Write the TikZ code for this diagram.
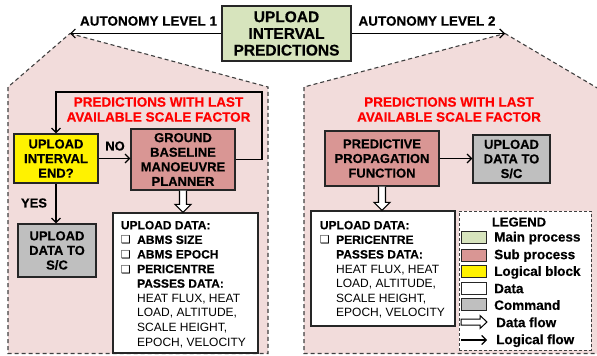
\documentclass[tikz,border=0pt]{standalone}
\usepackage{fontspec}
\setmainfont{Liberation Sans}[BoldFeatures={FakeBold=0.4}]
\newfontfamily\dvfont{DejaVu Sans}
\usetikzlibrary{arrows.meta,calc}
\definecolor{panelpink}{HTML}{F2DCDB}
\definecolor{subred}{HTML}{D99694}
\definecolor{maingreen}{HTML}{D7E4BD}
\definecolor{cmdgray}{HTML}{BFBFBF}
\definecolor{dashgray}{HTML}{404040}
\definecolor{edgegray}{HTML}{262626}
\newcommand{\cbx}{\makebox[16.3pt][l]{\dvfont\fontsize{11}{11}\selectfont ❑}}
\newcommand{\ind}{\hspace*{16.3pt}}
\begin{document}
\begin{tikzpicture}[x=1pt,y=-1pt,
  box/.style={draw=edgegray,line width=1.2pt,inner sep=0pt,align=center,
    font=\bfseries\fontsize{13}{14.6}\selectfont},
  panel/.style={draw=dashgray,line width=1.1pt,dash pattern=on 4pt off 3pt,fill=panelpink},
  logic/.style={draw=black,line width=1.2pt,-{Straight Barb[length=4.5pt,width=9pt]}},
  dataflow/.style={draw=black,line width=1.1pt,fill=white,
    to path={let \p1=(\tikztostart),\p2=(\tikztotarget) in
      (\x1-3.5pt,\y1) -- (\x1-3.5pt,\y2+8pt) -- (\x1-8pt,\y2+8pt) -- (\x1,\y2)
      -- (\x1+8pt,\y2+8pt) -- (\x1+3.5pt,\y2+8pt) -- (\x1+3.5pt,\y1)}},
  lbl/.style={inner sep=0pt,font=\bfseries\fontsize{13.5}{15}\selectfont},
  redlbl/.style={inner sep=0pt,align=center,text=red,font=\bfseries\fontsize{13.5}{15}\selectfont},
  datatxt/.style={anchor=north west,inner sep=0pt,align=left,font=\bfseries\fontsize{12}{14.6}\selectfont},
  swatch/.style={draw=edgegray,line width=1pt,minimum width=25pt,minimum height=12pt,inner sep=0pt},
  legtxt/.style={anchor=west,inner sep=0pt,text height=9.7pt,text depth=0pt,font=\bfseries\fontsize{13.5}{15}\selectfont}
]
\useasboundingbox (0,0) rectangle (597,356);
\clip (0,0) rectangle (597,356);

% panels
\draw[panel] (70,33.5) -- (268,87) -- (268,353.5) -- (8,353.5) -- (8,87) -- cycle;
\draw[panel] (505,33.5) -- (599,89) -- (599,353.5) -- (304,353.5) -- (304,87) -- cycle;

\coordinate (apexL) at (70,33.5);
\coordinate (apexR) at (505,33.5);

% main process
\node[box,fill=maingreen,minimum width=129pt,minimum height=55pt,
  font=\bfseries\fontsize{15.5}{16.7}\selectfont] (main) at (286.5,33.5) {UPLOAD\\INTERVAL\\PREDICTIONS};
\draw[logic] (main.west) -- (apexL);
\draw[logic] (main.east) -- (apexR);
\node[lbl] (al1) at (148.5,21) {AUTONOMY LEVEL 1};
\node[lbl] (al2) at (427,21) {AUTONOMY LEVEL 2};

% left panel
\node[redlbl] (predL) at (158.5,109.5) {PREDICTIONS WITH LAST\\AVAILABLE SCALE FACTOR};
\node[box,fill=yellow,minimum width=84pt,minimum height=49pt] (yel) at (56,158.5) {UPLOAD\\INTERVAL\\END?};
\node[box,fill=subred,minimum width=104pt,minimum height=61pt] (gbmp) at (183,159.5) {GROUND\\BASELINE\\MANOEUVRE\\PLANNER};
\node[box,fill=cmdgray,minimum width=78pt,minimum height=53pt] (uplL) at (57,250.5) {UPLOAD\\DATA TO\\S/C};
\node[box,fill=white,minimum width=145pt,minimum height=140pt] (dataL) at (185.5,283) {};
\node[datatxt] (dataLt) at (120.7,220.7) {UPLOAD DATA:\\\cbx ABMS SIZE\\\cbx ABMS EPOCH\\\cbx PERICENTRE\\\ind PASSES DATA:\\\ind{\mdseries HEAT FLUX, HEAT}\\\ind{\mdseries LOAD, ALTITUDE,}\\\ind{\mdseries SCALE HEIGHT,}\\\ind{\mdseries EPOCH, VELOCITY}};

\draw[logic] (yel.east) -- (yel.east -| gbmp.west);
\node[lbl,font=\bfseries\fontsize{13}{14}\selectfont] (no) at (115,146) {NO};
\draw[logic] (yel.south) -- (yel.south |- uplL.north);
\node[lbl,font=\bfseries\fontsize{13}{14}\selectfont] (yes) at (34,203) {YES};
\coordinate (loopB) at (262,92);
\draw[logic] (gbmp.east) -| (loopB) -| (yel.north);
\draw[dataflow] (gbmp.south) to (gbmp.south |- dataL.north);

% right panel
\node[redlbl] (predR) at (449,109.5) {PREDICTIONS WITH LAST\\AVAILABLE SCALE FACTOR};
\node[box,fill=subred,minimum width=114pt,minimum height=55pt] (ppf) at (382,158.5) {PREDICTIVE\\PROPAGATION\\FUNCTION};
\node[box,fill=cmdgray,minimum width=77pt,minimum height=48pt] (uplR) at (511.5,159) {UPLOAD\\DATA TO\\S/C};
\draw[logic] (ppf.east) -- (ppf.east -| uplR.west);
\node[box,fill=white,minimum width=144pt,minimum height=115pt] (dataR) at (383,268.5) {};
\node[datatxt] (dataRt) at (319.7,220.7) {UPLOAD DATA:\\\cbx PERICENTRE\\\ind PASSES DATA:\\\ind{\mdseries HEAT FLUX, HEAT}\\\ind{\mdseries LOAD, ALTITUDE,}\\\ind{\mdseries SCALE HEIGHT,}\\\ind{\mdseries EPOCH, VELOCITY}};
\draw[dataflow] (ppf.south) to (ppf.south |- dataR.north);

% legend
\node[draw=dashgray,line width=1pt,dash pattern=on 3pt off 2pt,fill=white,
  minimum width=132pt,minimum height=139pt,inner sep=0pt] (legend) at (525,280.5) {};
\node[lbl,font=\bfseries\fontsize{13}{14}\selectfont] (legt) at (519,222) {LEGEND};
\node[swatch,fill=maingreen] (sw1) at (473.5,237.5) {};
\node[swatch,fill=subred] (sw2) at (473.5,255) {};
\node[swatch,fill=yellow] (sw3) at (473.5,271.7) {};
\node[swatch,fill=white] (sw4) at (473.5,288) {};
\node[swatch,fill=cmdgray] (sw5) at (473.5,304.4) {};
\node[legtxt] (lt1) at (494,236.7) {Main process};
\node[legtxt] (lt2) at (494,254.3) {Sub process};
\node[legtxt] (lt3) at (494,271) {Logical block};
\node[legtxt] (lt4) at (494,288.3) {Data};
\node[legtxt] (lt5) at (494,305) {Command};
\draw[line width=1pt,fill=white] (461,319) -- (480,319) -- (480,315.5) -- (487,322) -- (480,328.5) -- (480,325) -- (461,325) -- cycle;
\node[legtxt] (lt6) at (496,322.3) {Data flow};
\coordinate (lf1) at (461,340);
\coordinate (lf2) at (487,340);
\draw[logic] (lf1) -- (lf2);
\node[legtxt] (lt7) at (496,339.3) {Logical flow};
\end{tikzpicture}
\end{document}
